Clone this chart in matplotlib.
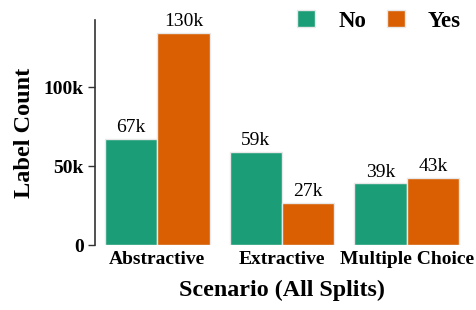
import matplotlib
matplotlib.use("Agg")
import matplotlib.pyplot as plt
import numpy as np
from matplotlib.ticker import FuncFormatter

categories = ["Abstractive", "Extractive", "Multiple Choice"]
no_vals = [67000, 59000, 39000]
yes_vals = [134500, 26800, 42600]
no_labels = ["67k", "59k", "39k"]
yes_labels = ["130k", "27k", "43k"]
series_names = ["No", "Yes"]
colors = ["#1b9e77", "#d95f02"]

plt.rcParams['font.family'] = ['Liberation Serif', 'DejaVu Serif']

fig = plt.figure(figsize=(4.76, 3.10), dpi=100)
ax = fig.add_axes([95/476, 1-245/310, (469-95)/476, (245-20)/310])

x = np.arange(len(categories))
w = 0.42
b1 = ax.bar(x - w/2, no_vals, w, color=colors[0], edgecolor="#e8e8e8", linewidth=1, label=series_names[0])
b2 = ax.bar(x + w/2, yes_vals, w, color=colors[1], edgecolor="#e8e8e8", linewidth=1, label=series_names[1])
ax.bar_label(b1, labels=no_labels, padding=2, fontsize=14)
ax.bar_label(b2, labels=yes_labels, padding=2, fontsize=14)

ax.set_xlim(-0.5, 2.5)
ax.set_ylim(0, 142500)
ax.set_yticks([0, 50000, 100000])
ax.yaxis.set_major_formatter(FuncFormatter(lambda v, p: "0" if v == 0 else f"{int(v/1000)}k"))
ax.set_xticks(x)
ax.set_xticklabels(categories)
for lab in ax.get_xticklabels() + ax.get_yticklabels():
    lab.set_fontweight("bold")
    lab.set_fontsize(14)
ax.tick_params(axis="x", length=0, pad=4)
ax.tick_params(axis="y", length=5, width=1, color="#333333", pad=3)
for s in ["top", "right", "bottom"]:
    ax.spines[s].set_visible(False)
ax.spines["left"].set_color("#333333")
ax.spines["left"].set_linewidth(1.2)

ax.set_ylabel("Label Count", fontsize=17.5, fontweight="bold", labelpad=6)
ax.set_xlabel("Scenario (All Splits)", fontsize=17.3, fontweight="bold", labelpad=9)

leg = fig.legend(handles=[b1, b2], labels=series_names, loc="upper right",
                 bbox_to_anchor=(1.012, 1.035), ncol=2, frameon=False,
                 prop={"weight": "bold", "size": 16.5}, handlelength=0.8,
                 handleheight=0.8, columnspacing=0.9, handletextpad=1.0)

fig.savefig("out.png", dpi=100)
